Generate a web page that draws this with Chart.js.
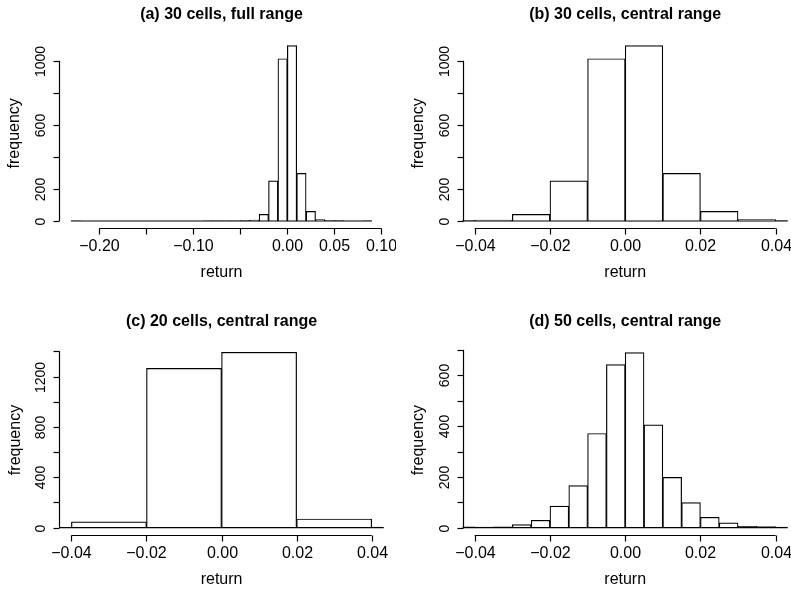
<!DOCTYPE html>
<html>
<head>
<meta charset="utf-8">
<script src="https://cdn.jsdelivr.net/npm/chart.js@4"></script>
<style>
  html, body { margin: 0; padding: 0; background: #fff; }
  #wrap { position: relative; width: 791px; height: 589px; overflow: hidden; }
  .panel { position: absolute; }
</style>
</head>
<body>
<div id="wrap">
  <div class="panel" style="left:0;top:0"><canvas id="chart-a" width="396" height="295"></canvas></div>
  <div class="panel" style="left:396px;top:0"><canvas id="chart-b" width="395" height="295"></canvas></div>
  <div class="panel" style="left:0;top:295px"><canvas id="chart-c" width="396" height="294"></canvas></div>
  <div class="panel" style="left:396px;top:295px"><canvas id="chart-d" width="395" height="294"></canvas></div>
</div>
<script>
// (a) 30 cells, full range -- bin edges and counts
const aBreaks = [-0.23, -0.22, -0.21, -0.20, -0.19, -0.18, -0.17, -0.16, -0.15, -0.14, -0.13,
                 -0.12, -0.11, -0.10, -0.09, -0.08, -0.07, -0.06, -0.05, -0.04, -0.03, -0.02,
                 -0.01, 0.00, 0.01, 0.02, 0.03, 0.04, 0.05, 0.06, 0.07, 0.08, 0.09];
const aCounts = [1, 0, 0, 0, 0, 0, 0, 0, 0, 0, 0, 0, 0, 0, 1, 1, 1, 1, 2, 5,
                 41, 251, 1013, 1095, 297, 60, 9, 3, 2, 0, 0, 1];
const aXlim = [-0.23, 0.09];
const aXTicks = [-0.20, -0.15, -0.10, -0.05, 0.00, 0.05, 0.10];
const aXLabels = ['\u22120.20', '', '\u22120.10', '', '0.00', '0.05', '0.10'];
const aYTicks = [0, 200, 400, 600, 800, 1000];
const aYLabels = ['0', '200', '', '600', '', '1000'];

// (b) 30 cells, central range
const bBreaks = [-0.05, -0.04, -0.03, -0.02, -0.01, 0.00, 0.01, 0.02, 0.03, 0.04, 0.05];
const bCounts = [2, 5, 41, 251, 1013, 1095, 297, 60, 9, 3];
const bXlim = [-0.04, 0.04];
const bXTicks = [-0.04, -0.02, 0.00, 0.02, 0.04];
const bXLabels = ['\u22120.04', '\u22120.02', '0.00', '0.02', '0.04'];
const bYTicks = [0, 200, 400, 600, 800, 1000];
const bYLabels = ['0', '200', '', '600', '', '1000'];

// (c) 20 cells, central range
const cBreaks = [-0.06, -0.04, -0.02, 0.00, 0.02, 0.04, 0.06];
const cCounts = [3, 46, 1264, 1392, 69, 5];
const cXlim = [-0.04, 0.04];
const cXTicks = [-0.04, -0.02, 0.00, 0.02, 0.04];
const cXLabels = ['\u22120.04', '\u22120.02', '0.00', '0.02', '0.04'];
const cYTicks = [0, 200, 400, 600, 800, 1000, 1200, 1400];
const cYLabels = ['0', '', '400', '', '800', '', '1200', ''];

// (d) 50 cells, central range
const dBreaks = [-0.045, -0.04, -0.035, -0.03, -0.025, -0.02, -0.015, -0.01, -0.005, 0.00,
                 0.005, 0.01, 0.015, 0.02, 0.025, 0.03, 0.035, 0.04, 0.045];
const dCounts = [3, 2, 3, 12, 29, 85, 166, 371, 642, 690, 405, 198, 99, 41, 19, 5, 4, 2];
const dXlim = [-0.04, 0.04];
const dXTicks = [-0.04, -0.02, 0.00, 0.02, 0.04];
const dXLabels = ['\u22120.04', '\u22120.02', '0.00', '0.02', '0.04'];
const dYTicks = [0, 100, 200, 300, 400, 500, 600, 700];
const dYLabels = ['0', '', '200', '', '400', '', '600', ''];

const INK = '#000';
const FONT = '"Liberation Sans", Arial, Helvetica, sans-serif';

// R-style axes: detached tick range, outward ticks, rotated y labels
const rAxes = {
  id: 'rAxes',
  afterDraw(chart, args, o) {
    const { ctx, chartArea: area, scales: { x, y } } = chart;
    const seg = (x0, y0, x1, y1) => { ctx.beginPath(); ctx.moveTo(x0, y0); ctx.lineTo(x1, y1); ctx.stroke(); };
    ctx.save();
    ctx.strokeStyle = INK;
    ctx.fillStyle = '#000';
    ctx.lineWidth = 1.2;

    // zero-height cells show as a line along the base
    const base = y.getPixelForValue(0);
    const bx0 = Math.max(area.left, x.getPixelForValue(o.breaks[0]));
    const bx1 = Math.min(area.right, x.getPixelForValue(o.breaks[o.breaks.length - 1]));
    seg(bx0, base, bx1, base);

    // x axis
    const ay = Math.round(area.bottom) + 0.5;
    seg(x.getPixelForValue(o.xTicks[0]), ay, x.getPixelForValue(o.xTicks[o.xTicks.length - 1]), ay);
    ctx.font = '16px ' + FONT;
    ctx.textAlign = 'center';
    ctx.textBaseline = 'middle';
    o.xTicks.forEach((v, i) => {
      const px = Math.round(x.getPixelForValue(v)) + 0.5;
      seg(px, ay, px, ay + 6);
      if (o.xLabels[i]) ctx.fillText(o.xLabels[i], px, area.bottom + 19);
    });
    ctx.fillText('return', (area.left + area.right) / 2, area.bottom + 45);

    // y axis
    const axx = Math.round(area.left) + 0.5;
    seg(axx, y.getPixelForValue(o.yTicks[0]), axx, y.getPixelForValue(o.yTicks[o.yTicks.length - 1]));
    ctx.font = '14px ' + FONT;
    o.yTicks.forEach((v, i) => {
      const py = Math.round(y.getPixelForValue(v)) + 0.5;
      seg(axx - 6, py, axx, py);
      if (o.yLabels[i]) {
        ctx.save();
        ctx.translate(area.left - 18, py);
        ctx.rotate(-Math.PI / 2);
        ctx.fillText(o.yLabels[i], 0, 0);
        ctx.restore();
      }
    });
    ctx.font = '16px ' + FONT;
    ctx.save();
    ctx.translate(area.left - 44, (area.top + area.bottom) / 2);
    ctx.rotate(-Math.PI / 2);
    ctx.fillText('frequency', 0, 0);
    ctx.restore();

    // title
    ctx.font = 'bold 16px ' + FONT;
    ctx.fillText(o.title, (area.left + area.right) / 2, area.top - 24);
    ctx.restore();
  }
};

function makeHist(id, title, breaks, counts, xlim, xTicks, xLabels, yTicks, yLabels, pad) {
  const pts = counts.map((c, i) => ({ x: (breaks[i] + breaks[i + 1]) / 2, y: c }));
  const top = Math.max(...counts);
  const xr = xlim[1] - xlim[0];
  return new Chart(document.getElementById(id), {
    type: 'bar',
    data: {
      datasets: [{
        data: pts,
        backgroundColor: '#ffffff',
        borderColor: INK,
        borderWidth: 1.2,
        barPercentage: 1,
        categoryPercentage: 1,
        clip: 0
      }]
    },
    options: {
      responsive: false,
      animation: false,
      events: [],
      layout: { padding: pad },
      plugins: {
        legend: { display: false },
        tooltip: { enabled: false },
        rAxes: { title, breaks, xTicks, xLabels, yTicks, yLabels }
      },
      scales: {
        x: {
          type: 'linear', display: false, offset: false,
          min: xlim[0] - 0.04 * xr, max: xlim[1] + 0.04 * xr,
          afterBuildTicks: s => { s.ticks = [{ value: s.min }, { value: s.max }]; }
        },
        y: {
          type: 'linear', display: false,
          min: -0.04 * top, max: 1.04 * top
        }
      }
    },
    plugins: [rAxes]
  });
}

makeHist('chart-a', '(a) 30 cells, full range', aBreaks, aCounts, aXlim, aXTicks, aXLabels, aYTicks, aYLabels,
  { left: 59, right: 12, top: 38.6, bottom: 67 });
makeHist('chart-b', '(b) 30 cells, central range', bBreaks, bCounts, bXlim, bXTicks, bXLabels, bYTicks, bYLabels,
  { left: 66.7, right: 3.3, top: 38.6, bottom: 67 });
makeHist('chart-c', '(c) 20 cells, central range', cBreaks, cCounts, cXlim, cXTicks, cXLabels, cYTicks, cYLabels,
  { left: 59.4, right: 12.3, top: 50.3, bottom: 54.3 });
makeHist('chart-d', '(d) 50 cells, central range', dBreaks, dCounts, dXlim, dXTicks, dXLabels, dYTicks, dYLabels,
  { left: 66.7, right: 3.3, top: 50.5, bottom: 54.3 });
</script>
</body>
</html>
